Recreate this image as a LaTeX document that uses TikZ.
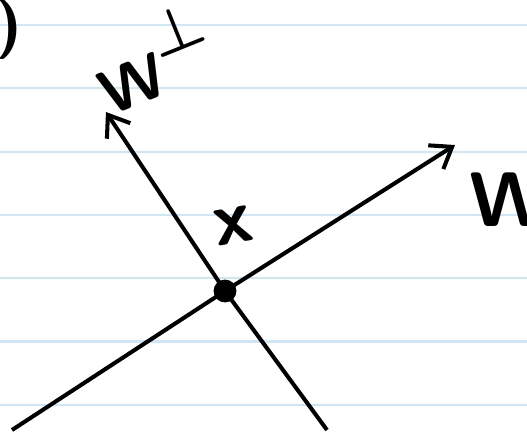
\documentclass[tikz,border=0pt]{standalone}
\usepackage{graphicx}
\usepackage{amsmath}
\usetikzlibrary{arrows.meta}
\begin{document}
\begin{tikzpicture}[x=0.02cm, y=-0.02cm, line width=2.3pt]
    % Define colours
    \definecolor{ruleColour}{HTML}{CBE7F8}
    \definecolor{inkColour}{HTML}{000000}

    % Define page size
    \def\pageWidth{527}
    \def\pageHeight{434}

    \useasboundingbox (0,0) rectangle (\pageWidth,\pageHeight);
    \clip (0,0) rectangle (\pageWidth,\pageHeight);

    % Draw ruled lines
    \foreach \y in {0,...,6}
        \draw[ruleColour, line width=1.2pt] (0,{25+63.3*\y}) -- (\pageWidth,{25+63.3*\y});

    % Define end points of W and its complement
    \coordinate (wStart) at (12,430);
    \coordinate (wEnd) at (455,145);
    \coordinate (perpStart) at (327,430);
    \coordinate (perpEnd) at (106,112);

    % Draw the point x
    \node[circle, fill=inkColour, inner sep=0pt, minimum size=13pt] (xPoint) at (225,291) {};

    % Draw the lines
    \draw[inkColour, -{Straight Barb[length=11pt,width=16pt,line width=2.3pt]}] (wStart) -- (xPoint.center) -- (wEnd);
    \draw[inkColour, -{Straight Barb[length=11pt,width=16pt,line width=2.3pt]}] (perpStart) -- (xPoint.center) -- (perpEnd);

    % Labels
    \node[font=\fontsize{34}{34}\sffamily\bfseries, anchor=east] (partLabel) at (30,30) {b)};
    \node[font=\fontsize{36}{36}\sffamily\bfseries, rotate=22] (perpLabel) at (152,58) {W\raisebox{0.55em}{\scalebox{1.4}{$\boldsymbol{\perp}$}}};
    \node[font=\fontsize{44}{44}\sffamily\bfseries] (wLabel) at (510,200) {W};
    \node[font=\fontsize{44}{44}\sffamily\bfseries, rotate=10] (xLabel) at (233,226) {x};

\end{tikzpicture}
\end{document}
